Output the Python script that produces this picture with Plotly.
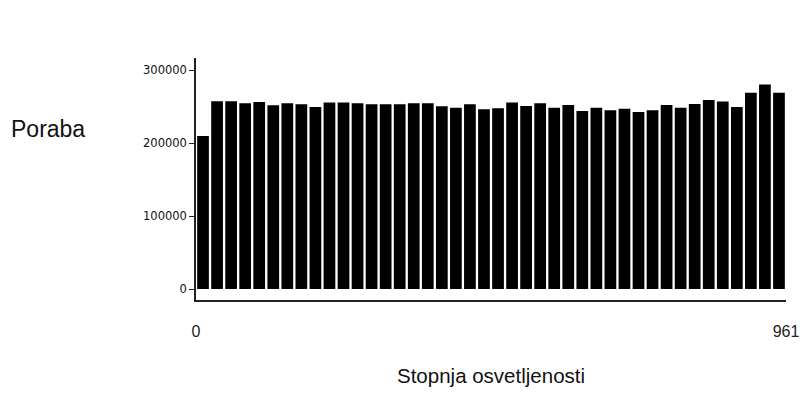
import plotly.graph_objects as go

# Data
x_min = 0
x_max = 961
poraba = [209800, 257300, 257300, 254500, 256300, 251700, 254500, 253100, 249400, 255400,
          255400, 254500, 253100, 253100, 253100, 254500, 254500, 250300, 248500, 253100,
          246200, 247600, 255400, 250800, 254500, 248500, 252200, 243900, 248500, 244800,
          247100, 242500, 244800, 252200, 248500, 253600, 259100, 256800, 249400, 268800,
          280300, 268800]
y_ticks = [0, 100000, 200000, 300000]
x_ticks = [0, 961]

n = len(poraba)
binw = (x_max - x_min) / n
centers = [x_min + (i + 0.5) * binw for i in range(n)]

fig = go.Figure()
fig.add_trace(go.Bar(
    x=centers, y=poraba, width=binw * 0.835,
    marker=dict(color="black", line=dict(width=0)),
    hoverinfo="skip", showlegend=False,
))

fig.update_layout(
    width=804, height=405,
    margin=dict(l=196, r=18, t=58, b=105, autoexpand=False),
    plot_bgcolor="white", paper_bgcolor="white",
    font=dict(family="Liberation Sans, Arial, sans-serif", color="#111"),
    xaxis=dict(
        range=[x_min, x_max], tickvals=x_ticks, ticktext=[str(v) for v in x_ticks],
        showgrid=False, zeroline=False, showline=True, linecolor="#222", linewidth=2,
        ticks="", ticklabelstandoff=16, automargin=False,
        tickfont=dict(family="Liberation Sans, Arial, sans-serif", size=16, color="#222"),
    ),
    yaxis=dict(
        range=[-15000, 316500], tickvals=y_ticks, ticktext=[str(v) for v in y_ticks],
        showgrid=False, zeroline=False, showline=True, linecolor="#222", linewidth=1.5,
        ticks="outside", ticklen=5, tickwidth=1, tickcolor="#222",
        ticklabelstandoff=0, automargin=False,
        tickfont=dict(family="DejaVu Sans, sans-serif", size=11.5, color="#111"),
    ),
    annotations=[
        dict(text="Poraba", xref="paper", yref="paper", x=-0.251, y=0.705,
             xanchor="center", yanchor="middle", showarrow=False,
             font=dict(size=23, color="#111", family="Liberation Sans, Arial, sans-serif")),
        dict(text="Stopnja osvetljenosti", xref="paper", yref="paper", x=0.50, y=-0.31,
             xanchor="center", yanchor="middle", showarrow=False,
             font=dict(size=20.5, color="#111", family="Liberation Sans, Arial, sans-serif")),
    ],
)

fig.write_html("out.html")
